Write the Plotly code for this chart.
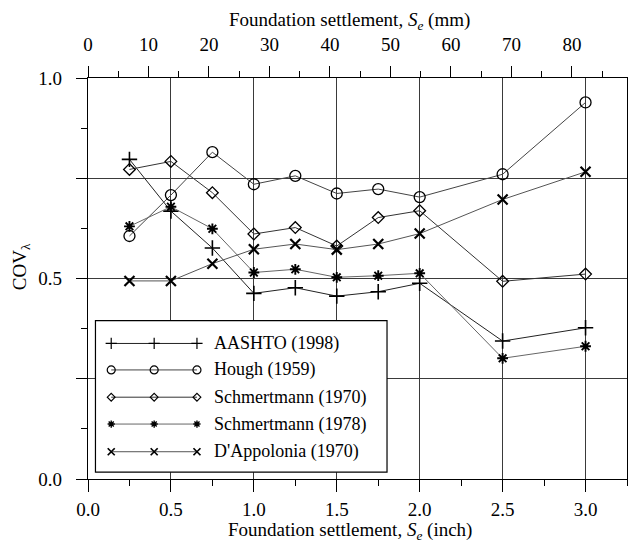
import plotly.graph_objects as go

# ---- data ----
settlement_in = [0.25, 0.5, 0.75, 1.0, 1.25, 1.5, 1.75, 2.0, 2.5, 3.0]
aashto_1998 = [0.797, 0.668, 0.576, 0.463, 0.477, 0.456, 0.467, 0.488, 0.344, 0.377]
hough_1959 = [0.606, 0.708, 0.815, 0.735, 0.756, 0.712, 0.723, 0.703, 0.760, 0.939]
schmertmann_1970 = [0.772, 0.792, 0.714, 0.611, 0.627, 0.581, 0.652, 0.669, 0.493, 0.511]
schmertmann_1978 = [0.630, 0.679, 0.624, 0.515, 0.523, 0.503, 0.507, 0.513, 0.301, 0.331]
dappolonia_1970 = [0.494, 0.494, 0.537, 0.573, 0.586, 0.572, 0.586, 0.612, 0.697, 0.766]

series_names = ["AASHTO (1998)", "Hough (1959)", "Schmertmann (1970)",
                "Schmertmann (1978)", "D'Appolonia (1970)"]
series_values = [aashto_1998, hough_1959, schmertmann_1970, schmertmann_1978, dappolonia_1970]

x_ticks_in = [0.0, 0.5, 1.0, 1.5, 2.0, 2.5, 3.0]
x_ticks_mm = [0, 10, 20, 30, 40, 50, 60, 70, 80]
y_ticks = [0.0, 0.25, 0.5, 0.75, 1.0]
y_tick_text = ["0.0", "", "0.5", "", "1.0"]

title_bottom = "Foundation settlement, <i>S</i><sub><i>e</i></sub> (inch)"
title_top = "Foundation settlement, <i>S</i><sub><i>e</i></sub> (mm)"
title_y = "COV<sub>λ</sub>"

# ---- styles ----
FONT = "Liberation Serif, Times New Roman, serif"
styles = [
    dict(symbol="cross-thin-open", size=11, lw=1.6, color="#222222"),
    dict(symbol="circle-open", size=11, lw=1.3, color="#444444"),
    dict(symbol="diamond-open", size=9, lw=1.3, color="#333333"),
    dict(symbol="asterisk-open", size=9, lw=1.9, color="#666666"),
    dict(symbol="x-thin-open", size=10, lw=2.2, color="#555555"),
]

fig = go.Figure()
for name, vals, st in zip(series_names, series_values, styles):
    fig.add_trace(go.Scatter(
        x=settlement_in, y=vals, mode="lines+markers", name=name, showlegend=False,
        line=dict(color=st["color"], width=1),
        marker=dict(symbol=st["symbol"], size=st["size"], color="black",
                    line=dict(color="black", width=st["lw"])),
    ))

# top (mm) axis needs a trace to be drawn: invisible markers at its tick values
fig.add_trace(go.Scatter(x=x_ticks_mm, y=[0.0] * len(x_ticks_mm), xaxis="x2", yaxis="y",
                         mode="markers", marker=dict(opacity=0), showlegend=False,
                         hoverinfo="skip"))

# ---- hand-made legend (three markers per line, as in the reference) ----
leg_x = [0.140, 0.399, 0.657]
leg_y = [0.338, 0.272, 0.204, 0.137, 0.068]
for name, st, ly in zip(series_names, styles, leg_y):
    fig.add_trace(go.Scatter(
        x=leg_x, y=[ly] * len(leg_x), mode="lines+markers", showlegend=False,
        hoverinfo="skip",
        line=dict(color=st["color"], width=1),
        marker=dict(symbol=st["symbol"], size=st["size"] - 3, color="black",
                    line=dict(color="black", width=max(1.2, st["lw"] - 0.5))),
    ))
    fig.add_annotation(x=0.745, y=ly, xref="x", yref="y", text=name, showarrow=False,
                       xanchor="left", yanchor="middle",
                       font=dict(family=FONT, size=18, color="black"))

fig.add_shape(type="rect", xref="x", yref="y", x0=0.045, x1=1.803, y0=0.017, y1=0.395,
              line=dict(color="black", width=1.2), fillcolor="white", layer="between")

# ---- axis titles as annotations (exact placement like the reference) ----
fig.add_annotation(text=title_bottom, xref="paper", yref="paper", x=0.486, y=-0.1646,
                   xanchor="center", yanchor="bottom", showarrow=False,
                   font=dict(family=FONT, size=19, color="black"))
fig.add_annotation(text=title_top, xref="paper", yref="paper", x=0.486, y=1.142,
                   xanchor="center", yanchor="middle", showarrow=False,
                   font=dict(family=FONT, size=19, color="black"))
fig.add_annotation(text=title_y, xref="paper", yref="paper", x=-0.123, y=0.53,
                   xanchor="center", yanchor="middle", textangle=-90, showarrow=False,
                   font=dict(family=FONT, size=19, color="black"))

fig.update_layout(
    width=632, height=545,
    margin=dict(l=88, r=5, t=78, b=66),
    paper_bgcolor="white", plot_bgcolor="white",
    font=dict(family=FONT, size=19, color="black"),
    showlegend=False,
    xaxis=dict(
        range=[0, 3.25], tickvals=x_ticks_in, ticktext=[f"{v:.1f}" for v in x_ticks_in],
        ticks="outside", ticklen=12, tickwidth=1.2, tickcolor="black",
        minor=dict(dtick=0.25, tick0=0, ticks="outside", ticklen=6, tickcolor="black",
                   tickwidth=1, showgrid=False),
        showgrid=True, gridcolor="#3a3a3a", gridwidth=1,
        showline=True, linecolor="black", linewidth=1.4, zeroline=False,
        ticklabelstandoff=1, tickfont=dict(size=19),
    ),
    xaxis2=dict(
        overlaying="x", side="top", anchor="y", range=[0, 89.1],
        tickvals=x_ticks_mm, ticktext=[str(v) for v in x_ticks_mm],
        ticks="outside", ticklen=11, tickwidth=1.2, tickcolor="black",
        minor=dict(dtick=5, tick0=0, ticks="outside", ticklen=6, tickcolor="black",
                   tickwidth=1, showgrid=False),
        showgrid=False, showline=True, linecolor="black", linewidth=1.4, zeroline=False,
        ticklabelstandoff=7, tickfont=dict(size=19),
    ),
    yaxis=dict(
        range=[0, 1.0], tickvals=y_ticks, ticktext=y_tick_text,
        ticks="outside", ticklen=11, tickwidth=1.2, tickcolor="black",
        minor=dict(dtick=0.125, tick0=0, ticks="outside", ticklen=6, tickcolor="black",
                   tickwidth=1, showgrid=False),
        showgrid=True, gridcolor="#3a3a3a", gridwidth=1,
        showline=True, linecolor="black", linewidth=1.4, mirror=True, zeroline=False,
        ticklabelstandoff=10, tickfont=dict(size=19),
    ),
)

fig.write_html("out.html", config={"displayModeBar": False},
               post_script="document.body.style.margin='0';document.body.style.padding='0';")
